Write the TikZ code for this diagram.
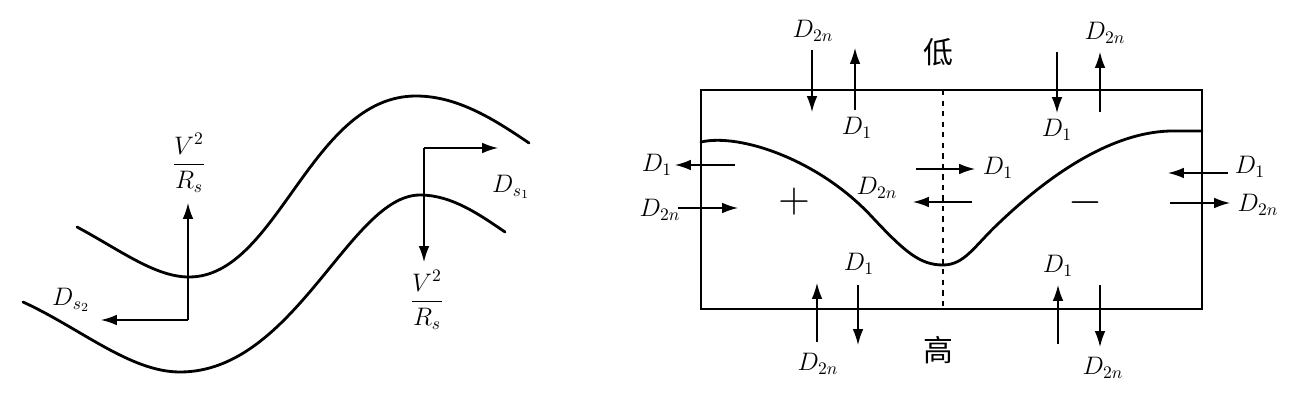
\documentclass[tikz,border=0pt]{standalone}
\usepackage{amsmath}
\usepackage{fontspec}
\newfontfamily\cjk{Noto Sans CJK SC}
\usetikzlibrary{arrows.meta}
\tikzset{
	curve/.style={line width=1.6pt, line cap=round},
	frame/.style={line width=1.6pt},
	force/.style={line width=0.8pt, -{Latex[length=9pt,width=6pt]}},
	lbl/.style={font=\Large, inner sep=1pt},
	sign/.style={font=\fontsize{38}{38}\selectfont, inner sep=0pt},
}
\begin{document}
\begin{tikzpicture}[x=0.02cm, y=-0.02cm]
		\useasboundingbox (0,0) rectangle (1293,411);
		
		%left: bend of the channel
		\draw[curve] (77,227) .. controls (120,250) and (155,277) .. (189,277)
			.. controls (278,277) and (310,96) .. (416,96)
			.. controls (458,96) and (495,120) .. (529,143);
		\draw[curve] (23,302) .. controls (80,328) and (130,372) .. (180,372)
			.. controls (295,372) and (350,195) .. (420,195)
			.. controls (452,195) and (480,215) .. (505,232);
		
		\coordinate (o1) at (188,320);
		\coordinate (t1) at (188,203);
		\coordinate (l1) at (101,320);
		\draw[force] (o1) -- (t1);
		\draw[force] (o1) -- (l1);
		\node[lbl] (vr1) at (189,163) {$\dfrac{V^2}{R_s}$};
		\node[lbl] (ds2) at (71,300) {$D_{s_2}$};
		
		\coordinate (o2) at (424,148);
		\coordinate (b2) at (424,262);
		\coordinate (r2) at (498,148);
		\draw[force] (o2) -- (b2);
		\draw[force] (o2) -- (r2);
		\node[lbl] (vr2) at (427,300) {$\dfrac{V^2}{R_s}$};
		\node[lbl] (ds1) at (511,187) {$D_{s_1}$};
		
		%right: cross section
		\draw[frame] (701,90) rectangle (1202,309);
		\draw[dashed, line width=0.8pt] (943,90) -- (943,309);
		\draw[curve] (701,142) .. controls (740,133) and (820,160) .. (873,218)
			.. controls (905,252) and (920,265) .. (943,265)
			.. controls (965,265) and (975,245) .. (1000,222)
			.. controls (1060,165) and (1120,131) .. (1173,131) -- (1202,131);
		
		\node[font=\cjk\fontsize{17}{17}\selectfont] (lo) at (938,52) {低};
		\node[font=\cjk\fontsize{17}{17}\selectfont] (hi) at (938,350) {高};
		\node[sign] (plus) at (794,202) {$+$};
		\node[sign] (minus) at (1085,203) {$-$};
		
		%top
		\coordinate (a1s) at (812,50);  \coordinate (a1e) at (812,112);
		\coordinate (a2s) at (855,110); \coordinate (a2e) at (855,48);
		\coordinate (a3s) at (1057,52); \coordinate (a3e) at (1057,113);
		\coordinate (a4s) at (1100,112); \coordinate (a4e) at (1100,52);
		\draw[force] (a1s) -- (a1e);
		\draw[force] (a2s) -- (a2e);
		\draw[force] (a3s) -- (a3e);
		\draw[force] (a4s) -- (a4e);
		\node[lbl] (t2n1) at (813,31) {$D_{2n}$};
		\node[lbl] (t11) at (857,128) {$D_1$};
		\node[lbl] (t12) at (1057,130) {$D_1$};
		\node[lbl] (t2n2) at (1105,33) {$D_{2n}$};
		
		%middle
		\coordinate (m1s) at (735,165);  \coordinate (m1e) at (675,165);
		\coordinate (m2s) at (678,208);  \coordinate (m2e) at (738,208);
		\coordinate (m3s) at (916,169);  \coordinate (m3e) at (975,169);
		\coordinate (m4s) at (972,202);  \coordinate (m4e) at (913,202);
		\coordinate (m5s) at (1228,173); \coordinate (m5e) at (1168,173);
		\coordinate (m6s) at (1170,203); \coordinate (m6e) at (1230,203);
		\draw[force] (m1s) -- (m1e);
		\draw[force] (m2s) -- (m2e);
		\draw[force] (m3s) -- (m3e);
		\draw[force] (m4s) -- (m4e);
		\draw[force] (m5s) -- (m5e);
		\draw[force] (m6s) -- (m6e);
		\node[lbl] (m11) at (657,165) {$D_1$};
		\node[lbl] (m2n1) at (660,210) {$D_{2n}$};
		\node[lbl] (m12) at (998,168) {$D_1$};
		\node[lbl] (m2n2) at (877,188) {$D_{2n}$};
		\node[lbl] (m13) at (1250,167) {$D_1$};
		\node[lbl] (m2n3) at (1258,205) {$D_{2n}$};
		
		%bottom
		\coordinate (b1s) at (817,342);  \coordinate (b1e) at (817,283);
		\coordinate (b2s) at (858,285);  \coordinate (b2e) at (858,345);
		\coordinate (b3s) at (1058,344); \coordinate (b3e) at (1058,285);
		\coordinate (b4s) at (1100,285); \coordinate (b4e) at (1100,347);
		\draw[force] (b1s) -- (b1e);
		\draw[force] (b2s) -- (b2e);
		\draw[force] (b3s) -- (b3e);
		\draw[force] (b4s) -- (b4e);
		\node[lbl] (b11) at (859,264) {$D_1$};
		\node[lbl] (b2n1) at (818,364) {$D_{2n}$};
		\node[lbl] (b12) at (1058,266) {$D_1$};
		\node[lbl] (b2n2) at (1103,368) {$D_{2n}$};
\end{tikzpicture}
\end{document}
